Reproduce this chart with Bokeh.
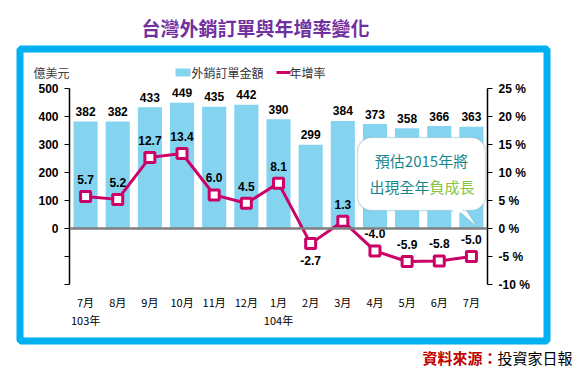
from bokeh.plotting import figure
from bokeh.models import (Range1d, LinearAxis, FixedTicker, Span, Label, BoxAnnotation,
                          PolyAnnotation, ColumnDataSource)
from bokeh.core.properties import value
from bokeh.embed import file_html
from bokeh.resources import INLINE

# ---- data ----
months = ["7月", "8月", "9月", "10月", "11月", "12月", "1月", "2月", "3月", "4月", "5月", "6月", "7月"]
orders = [382, 382, 433, 449, 435, 442, 390, 299, 384, 373, 358, 366, 363]
growth = [5.7, 5.2, 12.7, 13.4, 6.0, 4.5, 8.1, -2.7, 1.3, -4.0, -5.9, -5.8, -5.0]
year_pos = [0, 6]
year_text = ["103年", "104年"]
left_ticks = [-200, -100, 0, 100, 200, 300, 400, 500]
right_ticks = [-10, -5, 0, 5, 10, 15, 20, 25]
series_names = ["外銷訂單金額", "年增率"]

BAR = "#84D4F0"
LINE = "#CC0066"
FRAME = "#00B0F0"
CJK = "Noto Sans CJK TC"
NUM = "Liberation Sans"

W, H = 578, 376
FL, FR, FT, FB = 69, 487, 88, 284   # plot frame edges in page pixels

xs = list(range(len(months)))
below = {7}
src = ColumnDataSource(dict(
    x=xs, orders=orders, growth=growth,
    olab=[str(v) for v in orders],
    glab=[f"{v:.1f}" for v in growth],
    goff=[17 if i in below else -17 for i in xs],
))

x0, x1 = -0.5, len(months) - 0.5
y0, y1 = left_ticks[0], left_ticks[-1]


def px(X):  # page pixel -> data x (for decorations)
    return x0 + (X - FL) / (FR - FL) * (x1 - x0)


def py(Y):  # page pixel -> left-axis data y (for decorations)
    return y0 + (FB - Y) / (FB - FT) * (y1 - y0)


p = figure(width=W, height=H, x_range=Range1d(x0, x1), y_range=Range1d(y0, y1),
           output_backend="svg", toolbar_location=None,
           min_border_left=FL, min_border_right=W - FR, min_border_top=FT, min_border_bottom=H - FB)
p.extra_y_ranges = {"pct": Range1d(right_ticks[0], right_ticks[-1])}
p.outline_line_color = None
p.grid.visible = False
p.background_fill_color = "white"
p.border_fill_color = "white"


def style_y(ax):
    ax.minor_tick_line_color = None
    ax.major_tick_in = 0
    ax.major_tick_out = 5
    ax.axis_line_width = 1.5
    ax.axis_line_color = "black"
    ax.major_tick_line_color = "black"
    ax.major_label_standoff = 6
    ax.major_label_text_font = NUM
    ax.major_label_text_font_style = "bold"
    ax.major_label_text_font_size = "12px"
    ax.major_label_text_color = "black"


ya = p.yaxis[0]
ya.ticker = FixedTicker(ticks=left_ticks)
ya.major_label_overrides = {t: ("" if t < 0 else str(t)) for t in left_ticks}
style_y(ya)

ra = LinearAxis(y_range_name="pct", ticker=FixedTicker(ticks=right_ticks))
ra.major_label_overrides = {t: f"{t} %" for t in right_ticks}
style_y(ra)
p.add_layout(ra, "right")

xa = p.xaxis[0]
xa.ticker = FixedTicker(ticks=xs)
xa.major_label_overrides = {i: m for i, m in zip(xs, months)}
xa.axis_line_color = None
xa.major_tick_line_color = None
xa.minor_tick_line_color = None
xa.major_tick_in = 0
xa.major_tick_out = 0
xa.major_label_standoff = 9
xa.major_label_text_font = CJK
xa.major_label_text_font_size = "11px"
xa.major_label_text_color = "black"

# bars
bars = p.vbar(x="x", top="orders", width=0.75, fill_color=BAR, line_color=None, source=src)
p.add_layout(Span(location=0, dimension="width", line_color="#7F7F7F", line_width=2.5))

# callout
BORDER = "#5E9FB0"
p.add_layout(PolyAnnotation(xs=[px(452), px(463), px(477)], ys=[py(205), py(205), py(227)],
                            fill_color="white", fill_alpha=1, line_color=BORDER, line_width=1.5))
p.add_layout(BoxAnnotation(left=px(357), right=px(485), top=py(137), bottom=py(210),
                           fill_color="white", fill_alpha=1, line_color=BORDER,
                           line_width=1.5, border_radius=14))
p.add_layout(PolyAnnotation(xs=[px(453), px(462), px(462), px(453)],
                            ys=[py(208), py(208), py(212), py(212)],
                            fill_color="white", fill_alpha=1, line_color=None))

# growth line
ln = p.line(x="x", y="growth", y_range_name="pct", line_color=LINE, line_width=3, source=src)
sc = p.scatter(x="x", y="growth", y_range_name="pct", marker="square", size=10,
               fill_color="white", line_color=LINE, line_width=3, source=src)

# value labels
p.text(x="x", y="orders", text="olab", source=src, text_align="center", text_baseline="middle",
       y_offset=-10, text_font=value(NUM), text_font_style="bold", text_font_size="12px",
       text_color="black")
p.text(x="x", y="growth", text="glab", y_range_name="pct", source=src, text_align="center",
       text_baseline="middle", y_offset="goff", text_font=value(NUM), text_font_style="bold",
       text_font_size="12px", text_color="black")

# callout text
TEAL = "#17878C"
GREEN = "#86C440"
p.add_layout(Label(x=px(421), y=py(160), text="預估2015年將", text_align="center", text_baseline="middle",
                   text_font=CJK, text_font_size="15px", text_color=TEAL))
p.add_layout(Label(x=px(429), y=py(186), text="出現全年", text_align="right", text_baseline="middle",
                   text_font=CJK, text_font_size="15px", text_color=TEAL))
p.add_layout(Label(x=px(429), y=py(186), text="負成長", text_align="left", text_baseline="middle",
                   text_font=CJK, text_font_size="15px", text_color=GREEN))

# decorations outside the frame (overlay level)
p.text(x=year_pos, y=[py(319)] * len(year_pos), text=year_text, text_align="center",
       text_baseline="middle", text_font=value(CJK), text_font_size="11px",
       text_color="black", level="overlay")
p.quad(left=[px(19.5)], right=[px(546.5)], top=[py(48.5)], bottom=[py(340.5)],
       fill_alpha=0, line_color=FRAME, line_width=7, level="overlay")
p.text(x=[px(255)], y=[py(27)], text=["台灣外銷訂單與年增率變化"], text_align="center",
       text_baseline="middle", text_font=value(CJK), text_font_style="bold",
       text_font_size="19px", text_color="#7030A0", level="overlay")
p.text(x=[px(33)], y=[py(72)], text=["億美元"], text_align="left",
       text_baseline="middle", text_font=value(CJK),
       text_font_size="12px", text_color="#404040", level="overlay")
p.text(x=[px(422)], y=[py(357)], text=["資料來源："], text_align="left",
       text_baseline="middle", text_font=value(CJK), text_font_style="bold",
       text_font_size="15px", text_color="#C00000", level="overlay")
p.text(x=[px(497)], y=[py(357)], text=["投資家日報"], text_align="left",
       text_baseline="middle", text_font=value(CJK),
       text_font_size="15px", text_color="black", level="overlay")

# legend (drawn as overlay marks)
p.rect(x=[px(182.5)], y=[py(72)], width=px(197) - px(182), height=py(68) - py(76),
       fill_color=BAR, line_color=None, level="overlay")
p.text(x=[px(191)], y=[py(72)], text=[series_names[0]], text_align="left", text_baseline="middle",
       text_font=value(CJK), text_font_size="12px", text_color="#333333", level="overlay")
p.line(x=[px(276), px(290)], y=[py(72), py(72)], line_color=LINE, line_width=3, level="overlay")
p.scatter(x=[px(283)], y=[py(72)], marker="square", size=7, fill_color="white",
          line_color=LINE, line_width=3, level="overlay")
p.text(x=[px(289)], y=[py(72)], text=[series_names[1]], text_align="left", text_baseline="middle",
       text_font=value(CJK), text_font_size="12px", text_color="#333333", level="overlay")

open("out.html", "w").write(file_html(p, INLINE))
